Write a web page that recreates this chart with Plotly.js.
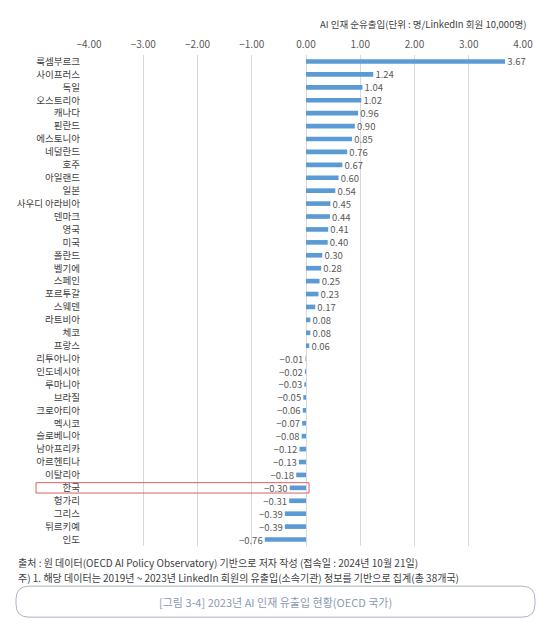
<!DOCTYPE html>
<html>
<head>
<meta charset="utf-8">
<script src="https://cdn.plot.ly/plotly-3.0.1.min.js"></script>
<style>html,body{margin:0;padding:0;background:#fff;}#chart{width:559px;height:637px;}</style>
</head>
<body>
<div id="chart"></div>
<script>
const countries = ["룩셈부르크","사이프러스","독일","오스트리아","캐나다","핀란드","에스토니아","네덜란드","호주","아일랜드","일본","사우디 아라비아","덴마크","영국","미국","폴란드","벨기에","스페인","포르투갈","스웨덴","라트비아","체코","프랑스","리투아니아","인도네시아","루마니아","브라질","크로아티아","멕시코","슬로베니아","남아프리카","아르헨티나","이탈리아","한국","헝가리","그리스","튀르키예","인도"];
const netFlow = [3.67,1.24,1.04,1.02,0.96,0.90,0.85,0.76,0.67,0.60,0.54,0.45,0.44,0.41,0.40,0.30,0.28,0.25,0.23,0.17,0.08,0.08,0.06,-0.01,-0.02,-0.03,-0.05,-0.06,-0.07,-0.08,-0.12,-0.13,-0.18,-0.30,-0.31,-0.39,-0.39,-0.76];
const xTicks = [-4,-3,-2,-1,0,1,2,3,4];
const highlighted = "한국";
const unitTitle = "AI 인재 순유출입(단위 : 명/LinkedIn 회원 10,000명)";
const sourceNote = "출처 : 원 데이터(OECD AI Policy Observatory) 기반으로 저자 작성 (접속일 : 2024년 10월 21일)";
const footNote = "주) 1. 해당 데이터는 2019년 ~ 2023년 LinkedIn 회원의 유출입(소속기관) 정보를 기반으로 집계(총 38개국)";
const caption = "[그림 3-4] 2023년 AI 인재 유출입 현황(OECD 국가)";

const W = 559, H = 637, L = 89, R = 36, T = 54.5, B = 91.2;
const pw = W - L - R, ph = H - T - B;
const px2x = px => (px - L) / pw;
const py2y = py => (H - B - py) / ph;
const n = countries.length;
const catY = v => (n - 0.5 - v) / n;

const FONT = '"Noto Sans CJK KR", "Noto Sans", sans-serif';
const NB = '\u00a0';
const labels = netFlow.map(v => {
  const s = v.toFixed(2).replace('-', '\u2212');
  return v < 0 ? s + NB : NB + s;
});

const trace = {
  type: 'bar',
  orientation: 'h',
  x: netFlow,
  y: countries,
  marker: {color: '#5B9BD5'},
  width: 0.36,
  text: labels,
  textposition: 'outside',
  constraintext: 'none',
  cliponaxis: false,
  textfont: {family: FONT, size: 9.5, color: '#595959'},
  hoverinfo: 'skip'
};

const hi = countries.indexOf(highlighted);
const bx0 = 16, bx1 = 535, by0 = 586, by1 = 617, rad = 13;
const rx = rad / pw, ry = rad / ph;
const X0 = px2x(bx0), X1 = px2x(bx1), Y0 = py2y(by1), Y1 = py2y(by0);
const boxPath = `M ${X0+rx},${Y1} L ${X1-rx},${Y1} Q ${X1},${Y1} ${X1},${Y1-ry} L ${X1},${Y0+ry} Q ${X1},${Y0} ${X1-rx},${Y0} L ${X0+rx},${Y0} Q ${X0},${Y0} ${X0},${Y0+ry} L ${X0},${Y1-ry} Q ${X0},${Y1} ${X0+rx},${Y1} Z`;

const layout = {
  width: W, height: H,
  margin: {l: L, r: R, t: T, b: B, pad: 0},
  paper_bgcolor: '#fff', plot_bgcolor: '#fff',
  showlegend: false,
  font: {family: FONT, color: '#404040'},
  xaxis: {
    side: 'top', range: [-4, 4], tickvals: xTicks, tickformat: '.2f',
    showgrid: true, gridcolor: '#d9d9d9', gridwidth: 1, zeroline: false,
    showline: false, ticks: '', ticklabelstandoff: 4,
    tickfont: {family: FONT, size: 10, color: '#595959'}, fixedrange: true
  },
  yaxis: {
    type: 'category', range: [n - 0.5, -0.5], showgrid: false, zeroline: false,
    showline: false, ticks: '', ticklabelstandoff: 8,
    tickfont: {family: FONT, size: 9.5, color: '#404040'}, fixedrange: true
  },
  shapes: [
    {type: 'rect', xref: 'paper', yref: 'paper', x0: px2x(36), x1: px2x(309),
     y0: catY(hi + 0.4), y1: catY(hi - 0.4), line: {color: '#D9605E', width: 1}},
    {type: 'path', xref: 'paper', yref: 'paper', path: boxPath, line: {color: '#A9B4C6', width: 1}}
  ],
  annotations: [
    {text: unitTitle, xref: 'paper', yref: 'paper', x: px2x(528), y: py2y(23), xanchor: 'right', yanchor: 'middle', showarrow: false, font: {family: FONT, size: 9.5, color: '#404040'}},
    {text: sourceNote, xref: 'paper', yref: 'paper', x: px2x(16), y: py2y(562), xanchor: 'left', yanchor: 'middle', showarrow: false, font: {family: FONT, size: 10, color: '#404040'}},
    {text: footNote, xref: 'paper', yref: 'paper', x: px2x(16), y: py2y(577), xanchor: 'left', yanchor: 'middle', showarrow: false, font: {family: FONT, size: 10, color: '#404040'}},
    {text: caption, xref: 'paper', yref: 'paper', x: px2x(275), y: py2y(601.5), xanchor: 'center', yanchor: 'middle', showarrow: false, font: {family: FONT, size: 11, color: '#8A9AB3'}}
  ]
};

Plotly.newPlot('chart', [trace], layout, {displayModeBar: false, staticPlot: true});
</script>
</body>
</html>
